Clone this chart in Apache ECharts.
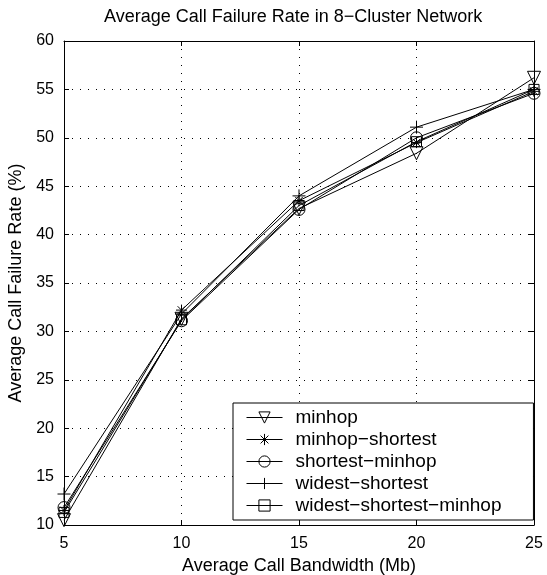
<!DOCTYPE html>
<html>
<head>
<meta charset="utf-8">
<script src="https://cdn.jsdelivr.net/npm/echarts@6/dist/echarts.min.js"></script>
<style>
  html, body { margin: 0; padding: 0; background: #fff; }
  #chart { width: 547px; height: 575px; }
</style>
</head>
<body>
<div id="chart"></div>
<script>
// bandwidth values on x
const bandwidth = [5, 10, 15, 20, 25];

// failure rate (%) per algorithm
const minhop = [10.5, 31.3, 42.7, 48.4, 56.2];
const minhopShortest = [11.5, 32.2, 43.5, 49.5, 54.8];
const shortestMinhop = [11.8, 31.1, 42.6, 50.0, 54.6];
const widestShortest = [13.2, 31.8, 44.0, 51.1, 55.0];
const widestShortestMinhop = [11.3, 31.2, 43.0, 49.6, 55.0];

const seriesNames = ['minhop', 'minhop\u2212shortest', 'shortest\u2212minhop', 'widest\u2212shortest', 'widest\u2212shortest\u2212minhop'];

// marker shapes (matlab style, hollow)
const triDown = 'path://M0,0 L10,0 L5,9 Z';
const star = 'path://M5,0 L5,10 M0,5 L10,5 M1.5,1.5 L8.5,8.5 M1.5,8.5 L8.5,1.5';
const plus = 'path://M5,0 L5,10 M0,5 L10,5';

const font = 'Liberation Sans, Arial, sans-serif';

const chart = echarts.init(document.getElementById('chart'));

const makeSeries = (name, values, symbol, size) => ({
  name: name,
  type: 'line',
  data: bandwidth.map((b, i) => [b, values[i]]),
  symbol: symbol,
  symbolSize: size,
  showAllSymbol: true,
  lineStyle: { color: '#000', width: 1 },
  itemStyle: { color: 'none', borderColor: '#000', borderWidth: 1 },
  emphasis: { disabled: true },
  animation: false
});

chart.setOption({
  animation: false,
  backgroundColor: '#fff',
  title: {
    text: 'Average Call Failure Rate in 8\u2212Cluster Network',
    left: 99,
    top: 3,
    textStyle: { fontFamily: font, fontSize: 18, fontWeight: 'normal', color: '#000' }
  },
  grid: { left: 64, right: 13, top: 41, bottom: 50, containLabel: false, outerBoundsMode: 'none' },
  legend: {
    orient: 'vertical',
    left: 233,
    top: 403,
    padding: [5, 32, 5, 13],
    itemGap: 3,
    itemWidth: 36,
    itemHeight: 14,
    backgroundColor: '#fff',
    borderColor: '#000',
    borderWidth: 1,
    lineStyle: { width: 1 },
    itemStyle: { borderWidth: 1 },
    textStyle: { fontFamily: font, fontSize: 19, lineHeight: 19, color: '#000', padding: [0, 0, 0, 8] },
    data: seriesNames
  },
  xAxis: [{
    type: 'value',
    min: 5,
    max: 25,
    interval: 5,
    name: 'Average Call Bandwidth (Mb)',
    nameLocation: 'middle',
    nameGap: 30,
    nameTextStyle: { fontFamily: font, fontSize: 18, color: '#000' },
    axisLine: { lineStyle: { color: '#000', width: 1 } },
    axisTick: { inside: true, length: 5, lineStyle: { color: '#000' } },
    axisLabel: { fontFamily: font, fontSize: 16, color: '#000', margin: 11 },
    splitLine: { show: true, lineStyle: { color: '#000', type: [1, 7], width: 1 } }
  }, {
    type: 'value',
    position: 'top',
    min: 5,
    max: 25,
    interval: 5,
    axisLine: { show: true, lineStyle: { color: '#000', width: 1 } },
    axisTick: { inside: true, length: 5, lineStyle: { color: '#000' } },
    axisLabel: { show: false },
    splitLine: { show: false }
  }],
  yAxis: [{
    type: 'value',
    min: 10,
    max: 60,
    interval: 5,
    name: 'Average Call Failure Rate (%)',
    nameLocation: 'middle',
    nameGap: 33,
    nameTextStyle: { fontFamily: font, fontSize: 18, color: '#000' },
    axisLine: { show: true, lineStyle: { color: '#000', width: 1 } },
    axisTick: { inside: true, length: 5, lineStyle: { color: '#000' } },
    axisLabel: { fontFamily: font, fontSize: 16, color: '#000', margin: 10 },
    splitLine: { show: true, lineStyle: { color: '#000', type: [1, 7], width: 1 } }
  }, {
    type: 'value',
    position: 'right',
    min: 10,
    max: 60,
    interval: 5,
    axisLine: { show: true, lineStyle: { color: '#000', width: 1 } },
    axisTick: { inside: true, length: 5, lineStyle: { color: '#000' } },
    axisLabel: { show: false },
    splitLine: { show: false }
  }],
  series: [
    makeSeries(seriesNames[0], minhop, triDown, 13),
    makeSeries(seriesNames[1], minhopShortest, star, 11),
    makeSeries(seriesNames[2], shortestMinhop, 'circle', 12),
    makeSeries(seriesNames[3], widestShortest, plus, 13),
    makeSeries(seriesNames[4], widestShortestMinhop, 'rect', 10)
  ]
});
</script>
</body>
</html>
